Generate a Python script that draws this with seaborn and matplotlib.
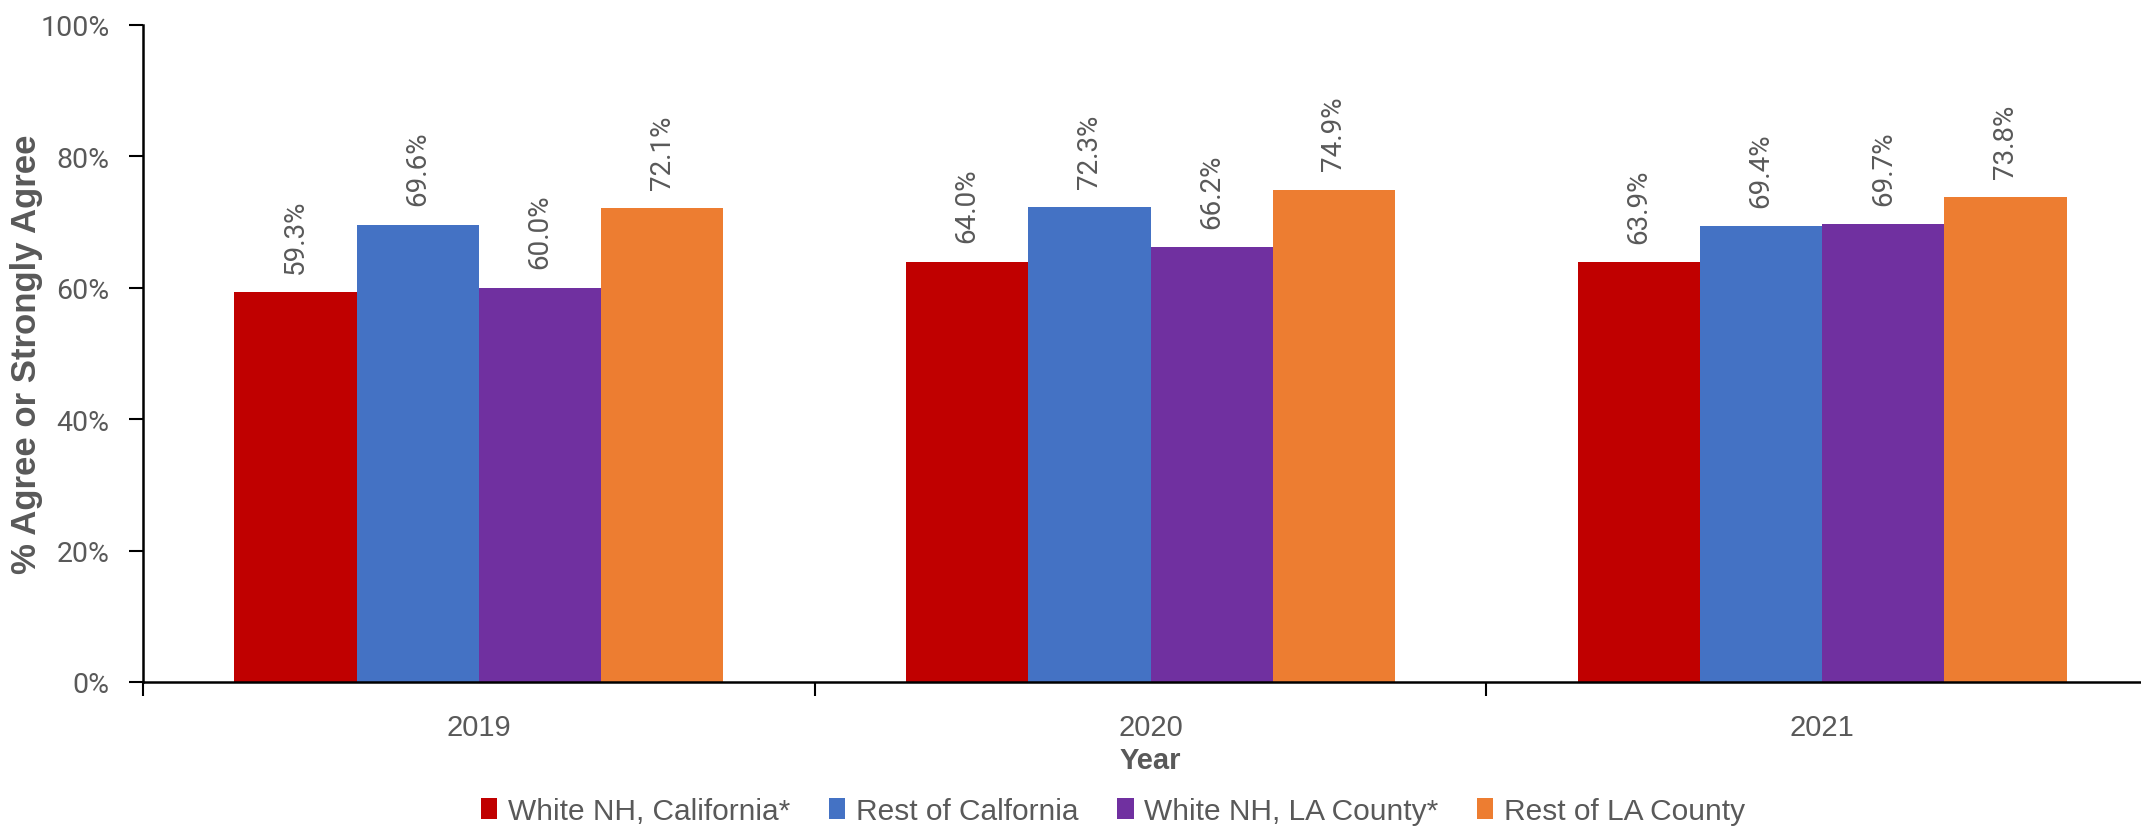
import matplotlib
matplotlib.use("Agg")
import matplotlib.pyplot as plt
from matplotlib import font_manager
from matplotlib.ticker import FixedLocator, PercentFormatter
import seaborn as sns
import pandas as pd

years = ["2019", "2020", "2021"]
groups = ["White NH, California*", "Rest of Calfornia",
          "White NH, LA County*", "Rest of LA County"]
white_nh_ca = [59.3, 64.0, 63.9]
rest_of_ca = [69.6, 72.3, 69.4]
white_nh_la = [60.0, 66.2, 69.7]
rest_of_la = [72.1, 74.9, 73.8]
colors = ["#C00000", "#4472C4", "#7030A0", "#ED7D31"]

series = [white_nh_ca, rest_of_ca, white_nh_la, rest_of_la]
df = pd.DataFrame(
    [(y, g, v) for g, vals in zip(groups, series) for y, v in zip(years, vals)],
    columns=["Year", "Group", "Value"],
)

names = {f.name for f in font_manager.fontManager.ttflist}
narrow = "Liberation Sans Narrow" if "Liberation Sans Narrow" in names else "Liberation Sans"
numfont = ["Roboto", "DejaVu Sans"]

sns.set_theme(style="white")
plt.rcParams["font.family"] = ["DejaVu Sans"]
grey = "#595959"

fig = plt.figure(figsize=(21.41, 8.28), dpi=100)
ax = fig.add_axes([143 / 2141, 1 - 683 / 828, (2158 - 143) / 2141, (683 - 26) / 828])

sns.barplot(data=df, x="Year", y="Value", hue="Group", hue_order=groups,
            palette=colors, width=0.728, gap=0, saturation=1, errorbar=None,
            linewidth=0, ax=ax, legend=True)

for cont in ax.containers:
    labels = [f"{v:.1f}%" for v in cont.datavalues]
    ax.bar_label(cont, labels=labels, rotation=90, padding=14,
                 fontsize=20, color=grey, family=numfont)

ax.set_xlim(-0.5, 2.5)
ax.set_ylim(0, 100)
ax.yaxis.set_major_locator(FixedLocator([0, 20, 40, 60, 80, 100]))
ax.yaxis.set_major_formatter(PercentFormatter(decimals=0))
ax.tick_params(axis="y", labelsize=20.5, labelcolor=grey, length=10, width=1.5,
               color="black", left=True, pad=14)
for t in ax.get_yticklabels():
    t.set_family(numfont)

ax.set_xticks([-0.5, 0.5, 1.5])
ax.set_xticklabels([])
ax.set_xticks([0, 1, 2], minor=True)
ax.set_xticklabels(years, minor=True, fontsize=21, color=grey, family=narrow)
ax.tick_params(axis="x", which="major", length=10, width=1.5, color="black",
               bottom=True)
ax.tick_params(axis="x", which="minor", length=0, pad=22)

for side in ["top", "right"]:
    ax.spines[side].set_visible(False)
for side in ["left", "bottom"]:
    ax.spines[side].set_color("black")
    ax.spines[side].set_linewidth(1.8)

ax.set_xlabel("Year", fontsize=21, fontweight="bold", color=grey,
              family=narrow, labelpad=4)
ax.set_ylabel("% Agree or Strongly Agree", fontsize=25, fontweight="bold",
              color=grey, family=narrow)
ax.yaxis.set_label_coords(-0.0495, 0.5)
ax.grid(False)

handles, labs = ax.get_legend_handles_labels()
ax.legend_.remove()
fig.legend(handles, labs, loc="center", bbox_to_anchor=(1113 / 2141, 1 - 812 / 828),
           ncol=4, frameon=False, handlelength=0.55, handleheight=0.7,
           handletextpad=0.35, columnspacing=1.3,
           prop={"family": narrow, "size": 21.5}, labelcolor=grey)

fig.savefig("out.png", dpi=100)
